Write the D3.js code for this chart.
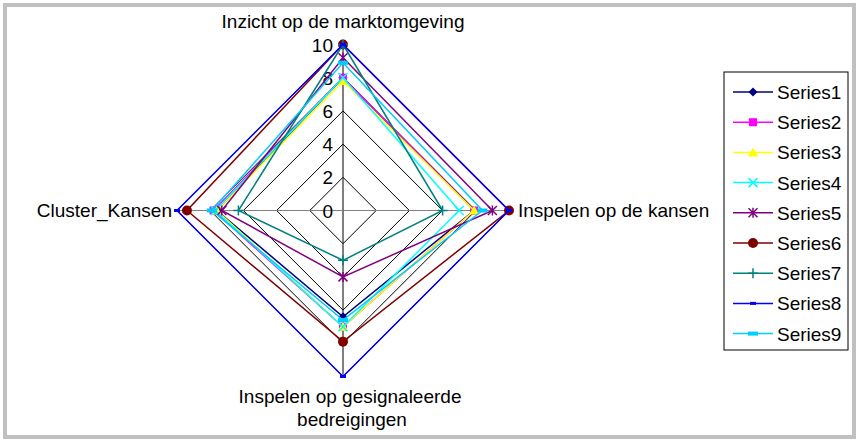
<!DOCTYPE html>
<html>
<head>
<meta charset="utf-8">
<script src="https://cdn.jsdelivr.net/npm/d3@7"></script>
<style>
  body { margin: 0; background: #fff; }
  text { font-family: "Liberation Sans", Arial, sans-serif; }
</style>
</head>
<body>
<div id="chart"></div>
<script>
// categories (clockwise from the top)
var categories = ["Inzicht op de marktomgeving", "Inspelen op de kansen",
    "Inspelen op gesignaleerde bedreigingen", "Cluster_Kansen"];
var seriesNames = ["Series1", "Series2", "Series3", "Series4", "Series5",
    "Series6", "Series7", "Series8", "Series9"];
var series1 = [8, 7.9, 6.4, 7.6];
var series2 = [8, 7.9, 7, 7.8];
var series3 = [7.8, 7.9, 7, 7.6];
var series4 = [8, 7, 7, 7.7];
var series5 = [9.2, 9, 4, 7.3];
var series6 = [10, 10, 7.9, 9.4];
var series7 = [10, 6, 3, 6.3];
var series8 = [10, 10, 10, 10];
var series9 = [8.9, 8.4, 6.6, 7.9];
var tickValues = [0, 2, 4, 6, 8, 10];

var allSeries = [series1, series2, series3, series4, series5, series6, series7, series8, series9];
var colors = ["#000080", "#ff00ff", "#ffff00", "#00ffff", "#800080", "#800000", "#008080", "#0000ff", "#00ccff"];
var markers = ["diamond", "square", "triangle", "x", "star", "circle", "plus", "dash", "bar"];

var width = 859, height = 442;
var cx = 343, cy = 210.5, radius = 166;
var fontSize = 19;

var svg = d3.select("#chart")
    .append("svg")
    .attr("width", width)
    .attr("height", height);

// frame
svg.append("rect")
    .attr("x", 5).attr("y", 5)
    .attr("width", width - 10).attr("height", height - 10)
    .attr("fill", "#fff")
    .attr("stroke", "#c0c0c0")
    .attr("stroke-width", 4);

var r = d3.scaleLinear().domain([0, 10]).range([0, radius]);
var angle = d3.scaleLinear().domain([0, categories.length]).range([0, 2 * Math.PI]);

var g = svg.append("g").attr("transform", "translate(" + cx + "," + cy + ")");

// grid rings
var ring = d3.lineRadial()
    .angle(function (d, i) { return angle(i); })
    .radius(function (d) { return r(d); })
    .curve(d3.curveLinearClosed);

g.selectAll(".ring")
    .data(tickValues.slice(1))
    .enter().append("path")
    .attr("d", function (t) { return ring(categories.map(function () { return t; })); })
    .attr("fill", "none")
    .attr("stroke", "#000")
    .attr("stroke-width", 1);

// spokes
categories.forEach(function (c, i) {
    var a = angle(i) - Math.PI / 2;
    g.append("line")
        .attr("x1", 0).attr("y1", 0)
        .attr("x2", r(10) * Math.cos(a)).attr("y2", r(10) * Math.sin(a))
        .attr("stroke", i % 2 === 0 ? "#000" : "#808080")
        .attr("stroke-width", 1);
});

// value ticks
g.selectAll(".tick")
    .data(tickValues)
    .enter().append("text")
    .attr("x", -10)
    .attr("y", function (d) { return -r(d) + 7; })
    .attr("text-anchor", "end")
    .attr("font-size", fontSize)
    .text(function (d) { return d; });

// category labels
svg.append("text").attr("x", cx).attr("y", 28).attr("text-anchor", "middle")
    .attr("font-size", fontSize).text(categories[0]);
svg.append("text").attr("x", 518).attr("y", 217).attr("text-anchor", "start")
    .attr("font-size", fontSize).text(categories[1]);
svg.append("text").attr("x", 350).attr("y", 403).attr("text-anchor", "middle")
    .attr("font-size", fontSize).text("Inspelen op gesignaleerde");
svg.append("text").attr("x", 352).attr("y", 426).attr("text-anchor", "middle")
    .attr("font-size", fontSize).text("bedreigingen");
svg.append("text").attr("x", 172).attr("y", 217).attr("text-anchor", "end")
    .attr("font-size", fontSize).text(categories[3]);

function drawMarker(sel, type, color) {
    if (type === "diamond") {
        sel.append("path").attr("d", "M0,-4.5L4.5,0L0,4.5L-4.5,0Z").attr("fill", color);
    } else if (type === "square") {
        sel.append("rect").attr("x", -4).attr("y", -4).attr("width", 8).attr("height", 8).attr("fill", color);
    } else if (type === "triangle") {
        sel.append("path").attr("d", "M0,-5L5,4L-5,4Z").attr("fill", color);
    } else if (type === "x") {
        sel.append("path").attr("d", "M-4.5,-4.5L4.5,4.5M-4.5,4.5L4.5,-4.5").attr("stroke", color).attr("stroke-width", 1.5);
    } else if (type === "star") {
        sel.append("path").attr("d", "M-4.5,-4.5L4.5,4.5M-4.5,4.5L4.5,-4.5M0,-5L0,5").attr("stroke", color).attr("stroke-width", 1.5);
    } else if (type === "circle") {
        sel.append("circle").attr("r", 5).attr("fill", color);
    } else if (type === "plus") {
        sel.append("path").attr("d", "M-5,0L5,0M0,-5L0,5").attr("stroke", color).attr("stroke-width", 1.5);
    } else if (type === "dash") {
        sel.append("rect").attr("x", -3).attr("y", -1.5).attr("width", 6).attr("height", 3).attr("fill", color);
    } else if (type === "bar") {
        sel.append("rect").attr("x", -5).attr("y", -2).attr("width", 10).attr("height", 4).attr("fill", color);
    }
}

// series lines
var line = d3.lineRadial()
    .angle(function (d, i) { return angle(i); })
    .radius(function (d) { return r(d); })
    .curve(d3.curveLinearClosed);

allSeries.forEach(function (vals, s) {
    g.append("path")
        .datum(vals)
        .attr("d", line)
        .attr("fill", "none")
        .attr("stroke", colors[s])
        .attr("stroke-width", 1.5);
    vals.forEach(function (v, i) {
        var a = angle(i) - Math.PI / 2;
        var m = g.append("g")
            .attr("transform", "translate(" + r(v) * Math.cos(a) + "," + r(v) * Math.sin(a) + ")");
        drawMarker(m, markers[s], colors[s]);
    });
});

// legend
var legend = svg.append("g").attr("transform", "translate(724,72)");
legend.append("rect")
    .attr("width", 124).attr("height", 278)
    .attr("fill", "#fff").attr("stroke", "#000").attr("stroke-width", 1);

var row = d3.scaleLinear().domain([0, 8]).range([20, 261.6]);
seriesNames.forEach(function (name, s) {
    var item = legend.append("g").attr("transform", "translate(0," + row(s) + ")");
    item.append("line").attr("x1", 9).attr("x2", 49).attr("y1", 0).attr("y2", 0)
        .attr("stroke", colors[s]).attr("stroke-width", 1.5);
    drawMarker(item.append("g").attr("transform", "translate(29,0)"), markers[s], colors[s]);
    item.append("text").attr("x", 53).attr("y", 7).attr("font-size", fontSize).text(name);
});
</script>
</body>
</html>
